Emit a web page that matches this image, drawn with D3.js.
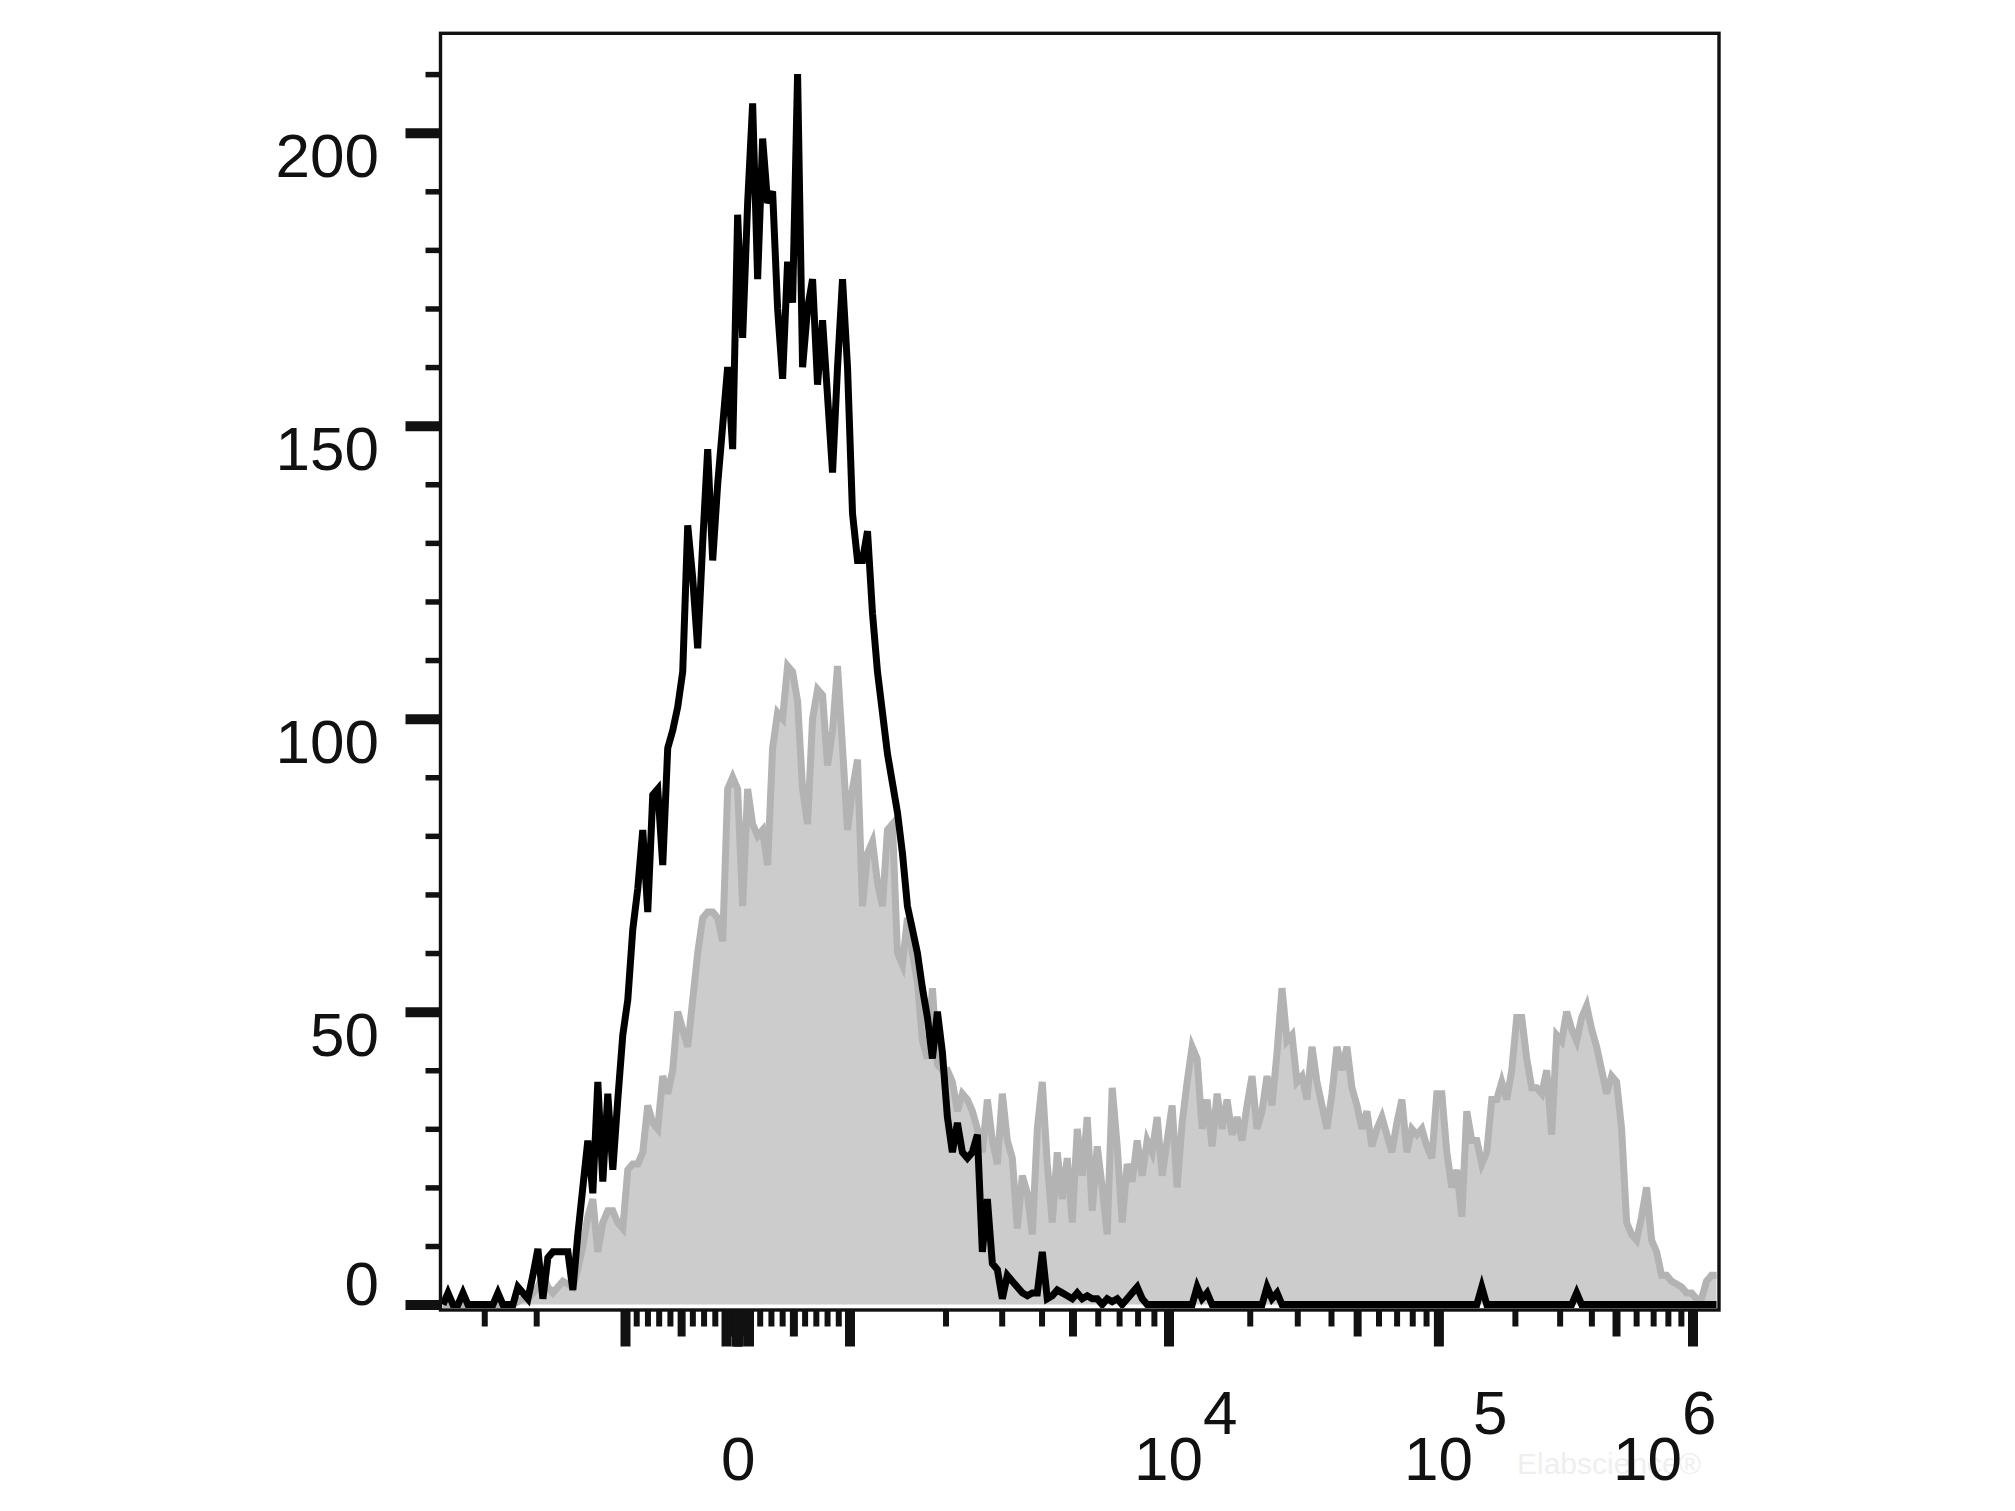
<!DOCTYPE html>
<html>
<head>
<meta charset="utf-8">
<script src="https://cdn.jsdelivr.net/npm/d3@7"></script>
<style>
  html, body { margin: 0; padding: 0; background: #ffffff; }
  svg { display: block; }
</style>
</head>
<body>
<svg id="chart" width="2015" height="1511"></svg>
<script>
// ---------------- DATA ----------------
// Histogram counts per display channel (256 channels across the plot width).
// Black outline = control sample, grey filled = stained sample.
const controlCounts = [
  0,2,0,0,2,0,0,0,0,0,0,2,0,0,0,3,
  2,1,5,9.5,1,8,9,9,9,9,2.5,12,20,28,19,38,
  21,36,23,35,46,52,64,71,81,67,87,88,75,95,98,102,
  108,133,124,112,130,146,127,140,150,160,146,186,165,188,205,175,
  199,188,190,170,158,178,171,210,160,170,175,157,168,155,142,160,
  175,160,135,127,127,132,118,108,101,94,89,84,77,68,64,60,
  54,49,42,50,43,32,26,31,26,25,26,29,9,18,7,6,
  1,5,4,3,2,1.5,2,2,9,1,1.5,2.5,2,1.5,1,2,
  1,1.5,1,1,0,1,0.5,1,0,1,2,3,1,0,0,0,
  0,0,0,0,0,0,0,3,1,2,0,0,0,0,0,0,
  0,0,0,0,0,3,1,2,0,0,0,0,0,0,0,0,
  0,0,0,0,0,0,0,0,0,0,0,0,0,0,0,0,
  0,0,0,0,0,0,0,0,0,0,0,0,0,0,0,0,
  3,0,0,0,0,0,0,0,0,0,0,0,0,0,0,0,
  0,0,0,2,0,0,0,0,0,0,0,0,0,0,0,0,
  0,0,0,0,0,0,0,0,0,0,0,0,0,0,0,0
];
const stainedCounts = [
  0,0,0,0,0,0,0,0,0,0,0,0,0,0,0,0.5,
  1,1,2,3,5,3,2,3,4,3.5,3,6,10,15,18,9,
  14,16,16,14,13,23,24,24,26,34,31,30,39,36,40,50,
  47,44,52,60,66,67,67,66,62,88,90,88,68,88,82,80,
  81,75,95,101,100,109,108,103,88,82,100,105,104,92,98,109,
  95,81,88,93,68,77,79,72,68,81,82,60,58,66,60,55,
  45,42,54,41,40,40,38,33,36,35,33,30,26,35,28,24,
  36,28,25,13,22,19,12,30,38,24,14,26,18,25,14,30,
  22,32,16,27,20,12,37,27,14,24,21,28,22,28,26,32,
  22,28,34,20,31,38,44,42,30,35,27,36,30,35,29,32,
  28,34,39,30,33,39,34,43,54,45,46,38,39,35,44,38,
  34,30,36,44,40,44,37,34,30,33,27,30,32,29,26,31,
  35,26,30,29,30,27,25,36,36,26,20,23,15,33,28,28,
  24,26,35,35,38,35,40,49,49,42,37,37,36,40,29,46,
  45,50,47,45,49,51,47,44,40,36,39,38,30,14,12,11,
  15,20,11,9,5,5,4,3.5,3,2,2,1,1,4,5,5
];
const channelCount = controlCounts.length;

const yMajorTicks = [0, 50, 100, 150, 200];
const yMinorTicks = [10, 20, 30, 40, 60, 70, 80, 90, 110, 120, 130, 140, 160, 170, 180, 190, 210];

const xLabelValues = [0, 1e4, 1e5, 1e6];
const xLabelBase = ["0", "10", "10", "10"];
const xLabelExp = ["", "4", "5", "6"];
const xTickDecades = [10, 100, 1000, 10000, 100000];
const xTopTick = 1e6;

const watermarkText = "Elabscience\u00AE";

// ---------------- LAYOUT ----------------
const frame = { left: 440.5, right: 1719, top: 33.3, bottom: 1310 };
const FONT = "'Liberation Sans', Arial, Helvetica, sans-serif";
const FS = 62;
const INK = "#111111";

const svg = d3.select("#chart");

// y scale (counts)
const yScale = d3.scaleLinear().domain([0, 200]).range([1304.6, 132.7]);

// x: channels are linear in display space
const xChannel = d3.scaleLinear().domain([0, channelCount]).range([frame.left, frame.right]);

// x axis: biexponential-like display (linear near zero, log beyond |1000|)
function toDecades(v) {
  const a = Math.abs(v);
  return a <= 1000 ? v / 1000 : Math.sign(v) * (1 + Math.log10(a / 1000));
}
const decadeScale = d3.scaleLinear()
  .domain([-2, -1, 1, 2, 3, 4])
  .range([330, 625, 849.5, 1168.5, 1438.4, 1692.5]);
function makeBiexScale() {
  const s = v => decadeScale(toDecades(v));
  s.domain = () => [-4000, 1.27e6];
  s.range = () => [frame.left, frame.right];
  s.copy = makeBiexScale;
  return s;
}
const xScale = makeBiexScale();

// ---------------- DRAW ----------------
svg.append("defs").append("clipPath").attr("id", "plotClip")
  .append("rect")
  .attr("x", frame.left).attr("y", frame.top)
  .attr("width", frame.right - frame.left).attr("height", frame.bottom - frame.top - 2);

// watermark (very faint, behind everything)
svg.append("text")
  .attr("x", 1517).attr("y", 1474)
  .attr("font-family", FONT).attr("font-size", 30)
  .attr("fill", "#efefef")
  .text(watermarkText);

const plot = svg.append("g").attr("clip-path", "url(#plotClip)");

const area = d3.area()
  .x((d, i) => xChannel(i + 0.5))
  .y0(yScale(0))
  .y1(d => yScale(d));
const line = d3.line()
  .x((d, i) => xChannel(i + 0.5))
  .y(d => yScale(d));

plot.append("path").datum(stainedCounts)
  .attr("d", area).attr("fill", "#cccccc").attr("stroke", "none");
plot.append("path").datum(stainedCounts)
  .attr("d", line).attr("fill", "none").attr("stroke", "#b3b3b3")
  .attr("stroke-width", 7).attr("stroke-linejoin", "miter");
plot.append("path").datum(controlCounts)
  .attr("d", line).attr("fill", "none").attr("stroke", "#000000")
  .attr("stroke-width", 7).attr("stroke-linejoin", "miter");

// frame
svg.append("rect")
  .attr("x", frame.left).attr("y", frame.top)
  .attr("width", frame.right - frame.left).attr("height", frame.bottom - frame.top)
  .attr("fill", "none").attr("stroke", INK).attr("stroke-width", 3.4);

// ---- Y axis ----
const yMinorG = svg.append("g").attr("transform", `translate(${frame.left},0)`)
  .call(d3.axisLeft(yScale).tickValues(yMinorTicks).tickSize(15).tickFormat(""));
yMinorG.select(".domain").remove();
yMinorG.selectAll(".tick line").attr("stroke", INK).attr("stroke-width", 5.5);

const yMajorG = svg.append("g").attr("transform", `translate(${frame.left},0)`)
  .call(d3.axisLeft(yScale).tickValues(yMajorTicks).tickSize(35).tickFormat(d3.format("d")));
yMajorG.select(".domain").remove();
yMajorG.attr("font-family", FONT).attr("font-size", FS);
yMajorG.selectAll(".tick line").attr("stroke", INK).attr("stroke-width", 10);
yMajorG.selectAll(".tick text")
  .attr("fill", INK)
  .attr("x", -61.5)
  .attr("dy", null)
  .attr("y", d => d === 0 ? -0.5 : 44)
  .attr("text-anchor", "end");

// ---- X axis ticks ----
const xBig = [0], xMed = [], xSmall = [];
xTickDecades.forEach(d => {
  for (let k = 1; k <= 9; k++) {
    [1, -1].forEach(s => {
      const v = s * k * d;
      if (k === 1) xBig.push(v); else if (k === 5) xMed.push(v); else xSmall.push(v);
    });
  }
});
xBig.push(xTopTick);
const inside = v => { const p = xScale(v); return p >= frame.left + 10 && p <= frame.right - 10; };

function drawXTicks(values, size, width) {
  const g = svg.append("g").attr("transform", `translate(0,${frame.bottom})`)
    .call(d3.axisBottom(xScale).tickValues(values.filter(inside)).tickSize(size).tickFormat(""));
  g.select(".domain").remove();
  g.selectAll(".tick line").attr("stroke", INK).attr("stroke-width", width);
}
drawXTicks(xSmall, 16.5, 6);
drawXTicks(xMed, 26.5, 8);
drawXTicks(xBig, 36.5, 10);

// ---- X labels ----
const digitW = FS * 0.556; // digit advance
xLabelValues.forEach((v, i) => {
  const base = xLabelBase[i], exp = xLabelExp[i];
  const px = xScale(v);
  const t = svg.append("text")
    .attr("font-family", FONT).attr("font-size", FS).attr("fill", INK)
    .attr("y", 1480);
  if (!exp) {
    t.attr("x", px + 1).attr("text-anchor", "middle").text(base);
  } else {
    const baseWidth = base.length * digitW;
    const total = (base.length + exp.length) * digitW;
    const x0 = Math.min(px - baseWidth / 2, frame.right - 2.5 - total);
    t.attr("x", x0).attr("text-anchor", "start");
    t.append("tspan").text(base);
    t.append("tspan").attr("dy", -46).text(exp);
  }
});
</script>
</body>
</html>
